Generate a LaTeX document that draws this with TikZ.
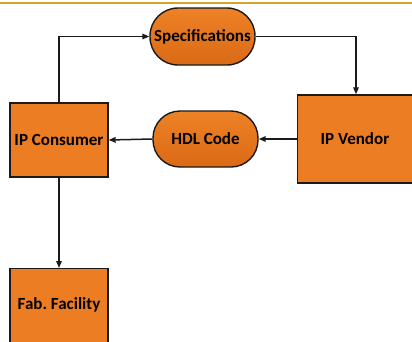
\documentclass[tikz,border=0pt]{standalone}
\usepackage{fontspec}
\setmainfont{Carlito}
\usetikzlibrary{arrows.meta}
\definecolor{boxorange}{HTML}{EC7D22}
\definecolor{pilltop}{HTML}{EE8226}
\definecolor{pillbot}{HTML}{DA6A15}
\definecolor{rulegold}{HTML}{D4A52A}
\definecolor{edge}{HTML}{1A1A1A}
\begin{document}
\begin{tikzpicture}[x=1pt,y=-1pt,
  lbl/.style={font=\bfseries\fontsize{17}{19}\selectfont},
  blockbox/.style={draw=edge,line width=1.4pt,fill=boxorange,minimum width=98pt,
    inner sep=0pt,lbl},
  pill/.style={draw=edge,line width=1.4pt,top color=pilltop,bottom color=pillbot,
    rounded corners=28pt,minimum height=57pt,inner sep=0pt,lbl},
  flow/.style={draw=edge,line width=1.5pt,-{Triangle[length=7pt,width=5.5pt]}}]
\useasboundingbox (0,0) rectangle (412,341);
% top rule
\draw[rulegold,line width=2pt] (0,3) -- (412,3);
% nodes
\node[pill,minimum width=105pt] (spec) at (202.5,36.5) {Specifications};
\node[pill,minimum width=105pt,minimum height=56pt,rounded corners=27pt] (hdl) at (205.5,139) {HDL Code};
\node[blockbox,minimum height=74pt] (cons) at (59,140) {IP Consumer};
\node[blockbox,minimum width=118pt,minimum height=88pt,anchor=west,text width=0pt] (vend) at (297,139) {};
\node[lbl] (vendtxt) at (355,139) {IP Vendor};
\node[blockbox,minimum height=80pt,anchor=north] (fab) at (59,268) {};
\node[lbl] (fabtxt) at (59,305) {Fab.\ Facility};
% connectors
\draw[flow] (cons.north) |- (spec.west);
\draw[flow] (spec.east) -| (356,0 |- vend.north);
\draw[flow] (vend.west) -- (hdl.east);
\draw[flow] (hdl.west) -- (cons.east);
\draw[flow] (cons.south) -- (fab.north);
\end{tikzpicture}
\end{document}
